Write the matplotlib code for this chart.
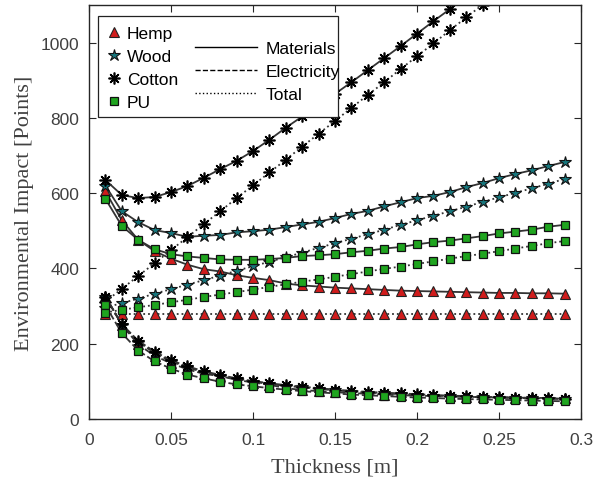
import matplotlib
matplotlib.use('Agg')
from matplotlib import pyplot as plt
from matplotlib.lines import Line2D
from matplotlib.patches import Rectangle

thickness = [0.01, 0.02, 0.03, 0.04, 0.05, 0.06, 0.07, 0.08, 0.09, 0.10,
             0.11, 0.12, 0.13, 0.14, 0.15, 0.16, 0.17, 0.18, 0.19, 0.20,
             0.21, 0.22, 0.23, 0.24, 0.25, 0.26, 0.27, 0.28, 0.29]

# upper (U-shaped) curves, solid line
hemp_top = [605, 528, 476, 446, 426, 410, 398, 392, 382, 375, 369, 360, 355, 352, 349,
            347, 345, 343, 341, 340, 339, 338, 337, 336, 335, 335, 334, 334, 333]
wood_top = [620, 552, 523, 502, 494, 484, 487, 489, 496, 499, 503, 510, 517, 524, 534,
            545, 553, 565, 576, 587, 593, 603, 616, 627, 640, 651, 661, 672, 683]
cotton_top = [635, 595, 587, 590, 603, 619, 641, 664, 686, 712, 742, 774, 804, 834, 864,
              895, 927, 959, 991, 1024, 1057, 1089, 1122, 1155, 1188, 1220, 1253, 1286, 1319]
pu_top = [585, 513, 476, 451, 438, 432, 428, 424, 423, 423, 425, 428, 433, 435, 438,
          443, 447, 453, 457, 464, 470, 474, 480, 486, 493, 498, 503, 511, 516]

# rising curves, dotted line
hemp_rise = [278] * 29
wood_rise = [296, 308, 320, 333, 345, 357, 369, 381, 394, 406, 418, 430, 442, 455, 467,
             479, 491, 503, 516, 528, 540, 552, 564, 577, 589, 601, 613, 625, 638]
cotton_rise = [312, 346, 380, 414, 449, 483, 518, 552, 587, 621, 655, 689, 724, 758, 792,
               827, 861, 895, 930, 964, 998, 1033, 1067, 1101, 1136, 1170, 1204, 1239, 1273]
pu_rise = [283, 290, 297, 303, 310, 317, 324, 331, 337, 344, 351, 358, 365, 371, 378,
           385, 392, 399, 405, 412, 419, 426, 433, 439, 446, 453, 460, 467, 473]

# falling curves
hemp_fall = [327, 250, 198, 168, 148, 132, 120, 114, 104, 97, 91, 82, 77, 74, 71,
             69, 67, 65, 63, 62, 61, 60, 59, 58, 57, 57, 56, 56, 55]
wood_fall = [325, 250, 205, 175, 153, 137, 124, 114, 106, 99, 93, 88, 84, 80, 76,
             73, 70, 68, 66, 64, 62, 61, 59, 58, 57, 56, 55, 54, 53]
cotton_fall = [325, 252, 208, 179, 156, 140, 127, 117, 108, 101, 95, 90, 86, 82, 78,
               75, 72, 70, 68, 66, 64, 62, 61, 59, 58, 57, 56, 55, 54]
pu_fall = [302, 228, 182, 153, 134, 118, 108, 99, 92, 87, 82, 78, 74, 71, 68,
           65, 63, 61, 59, 57, 56, 54, 53, 52, 51, 50, 49, 48, 47]

names = ['Hemp', 'Wood', 'Cotton', 'PU']
line_names = ['Materials', 'Electricity', 'Total']

fig = plt.figure(figsize=(5.95, 4.85), dpi=100)
ax = fig.add_axes([0.1496, 0.134, 0.827, 0.8536])

styles = [
    dict(marker='^', mfc='#d01c1c', mec='#222222', ms=7.5, mew=0.8),
    dict(marker='*', mfc='#17767c', mec='#111111', ms=9, mew=0.8),
    dict(marker=(8, 2, 0), mfc='none', mec='#000000', ms=8.5, mew=1.2),
    dict(marker='s', mfc='#1fa51f', mec='#111111', ms=6.3, mew=0.9),
]
groups = [
    (hemp_top, hemp_rise, hemp_fall),
    (wood_top, wood_rise, wood_fall),
    (cotton_top, cotton_rise, cotton_fall),
    (pu_top, pu_rise, pu_fall),
]
lc = '#333333'
for st, (top, rise, fall) in zip(styles, groups):
    ax.plot(thickness, fall, '--', color=lc, lw=1.3, **st)
    ax.plot(thickness, rise, ':', color=lc, lw=1.3, **st)
    ax.plot(thickness, top, '-', color=lc, lw=1.3, **st)

ax.set_xlim(0, 0.3)
ax.set_ylim(0, 1100)
ax.set_xticks([0, 0.05, 0.1, 0.15, 0.2, 0.25, 0.3])
ax.set_xticklabels(['0', '0.05', '0.1', '0.15', '0.2', '0.25', '0.3'])
ax.set_yticks([0, 200, 400, 600, 800, 1000])
ax.tick_params(direction='in', top=True, right=True, length=5, width=0.8,
               labelsize=12.5, labelcolor='#404040', color='#262626', pad=7)
ax.tick_params(axis='x', pad=9)
for sp in ax.spines.values():
    sp.set_color('#262626')
    sp.set_linewidth(1.0)
for lab in ax.get_xticklabels() + ax.get_yticklabels():
    lab.set_family('Liberation Sans')

ax.set_xlabel('Thickness [m]', family='Liberation Serif', fontsize=16, color='#404040',
              labelpad=8)
ax.set_ylabel('Environmental Impact [Points]', family='Liberation Serif', fontsize=16,
              color='#404040', labelpad=5)

# legend box drawn by hand, two legends inside
ax.add_patch(Rectangle((0.018, 0.729), 0.488, 0.244, transform=ax.transAxes,
                       fill=True, facecolor='white', edgecolor='#222222', lw=0.9, zorder=5))
mk_handles = [Line2D([], [], ls='none', **st) for st in styles]
leg1 = ax.legend(mk_handles, names, loc='upper left', bbox_to_anchor=(0.008, 0.978),
                 frameon=False, handlelength=1.0, handletextpad=0.25, labelspacing=0.45,
                 borderpad=0.2, prop={'family': 'Liberation Sans', 'size': 12.5})
leg1.set_zorder(6)
ax.add_artist(leg1)
ln_handles = [Line2D([], [], color='black', ls=s, lw=1.0) for s in ['-', '--', ':']]
leg2 = ax.legend(ln_handles, line_names, loc='upper left', bbox_to_anchor=(0.19, 0.943),
                 frameon=False, handlelength=3.6, handletextpad=0.5, labelspacing=0.45,
                 borderpad=0.2, prop={'family': 'Liberation Sans', 'size': 12.5})
leg2.set_zorder(6)

fig.savefig('out.png', dpi=100)
